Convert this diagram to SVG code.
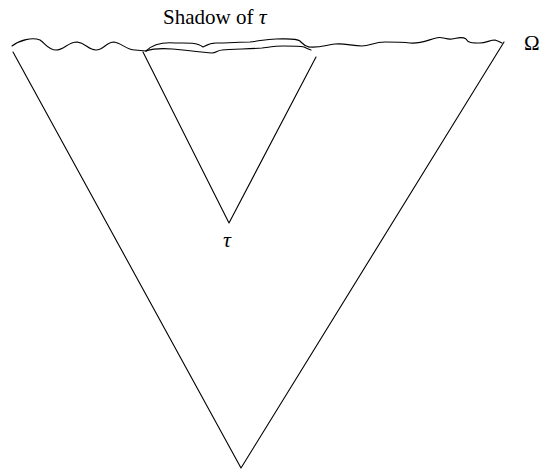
<svg xmlns="http://www.w3.org/2000/svg" width="541" height="473" viewBox="0 0 541 473">
<style>
.ln{fill:none;stroke:#000;stroke-width:1.1;stroke-linejoin:round;stroke-linecap:round}
.t{font-family:"Liberation Serif","Times New Roman",serif;font-size:21px;fill:#000}
.i{font-style:italic;font-size:22px}
</style>
<rect width="541" height="473" fill="#fff"/>
<g id="edges">
<path class="ln" d="M13,52 L241,468 L504,42"/>
<path class="ln" d="M143,52 L229,223 L316,57"/>
</g>
<g id="omega-boundary">
<path class="ln" d="M12,46 C20,40 32,37 40,40 C46,44 48,50 56,50 C64,50 68,42 77,42 C86,43 88,50 96,50 C104,50 106,42 114,42 C122,43 126,50 135,50 L146,51"/>
<path class="ln" d="M146,51 C152,45 162,42 175,43 C185,43 196,42 203,47 C207,45 210,43 216,43 C228,43 240,42 250,42 C260,41 266,39 276,39 C286,39 296,38 300,41 C303,44 304,46 309,47"/>
<path class="ln" d="M146,51 C152,49 160,48 172,49 C184,50 200,52 212,53 C216,53 218,50 222,50 C232,49 250,49 262,48 C270,47 276,46 283,46 C292,46 300,46 304,47 C306,48 308,49 311,50"/>
<path class="ln" d="M309,47 C320,48 326,45 335,44 C345,43 352,46 362,46 C370,46 374,42 385,42 C395,42 402,42 410,43 C420,44 428,40 436,38 C442,36 446,40 452,39 C458,38 462,36 466,39 C468,43 472,43 480,43 C486,43 490,40 495,40 C498,41 500,42 502,43"/>
</g>
<g id="labels">
<text class="t" x="163" y="24">Shadow of <tspan class="i">τ</tspan></text>
<text class="t" x="524" y="50">Ω</text>
<text class="t i" x="223" y="247">τ</text>
</g>
</svg>
